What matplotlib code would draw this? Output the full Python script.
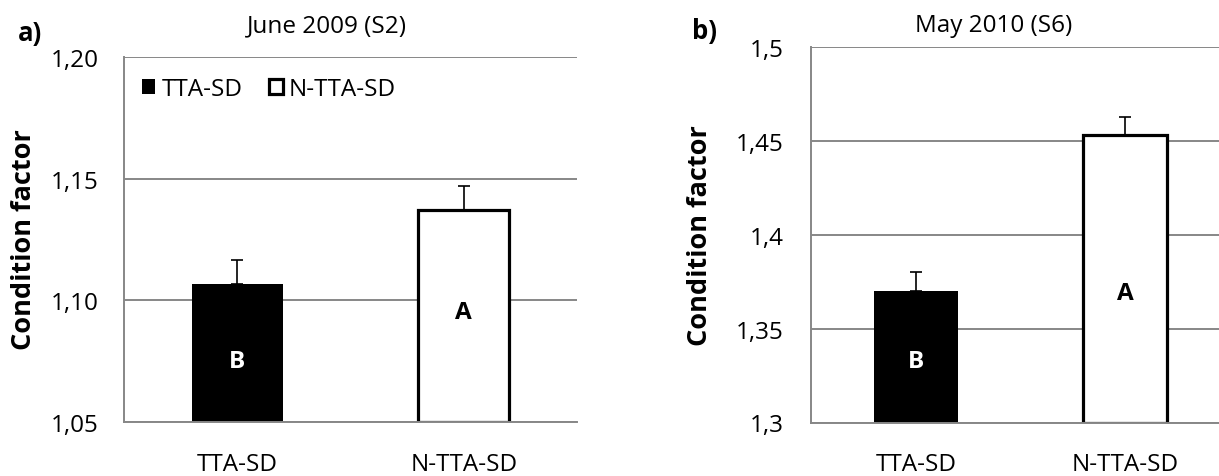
import matplotlib
matplotlib.use('Agg')
import matplotlib.pyplot as plt
from matplotlib.patches import Patch
from matplotlib.ticker import FuncFormatter

plt.rcParams['font.family'] = ['Open Sans', 'DejaVu Sans']

# --- Data ---
groups = ["TTA-SD", "N-TTA-SD"]

june_means = [1.1065, 1.137]
june_sd = [0.010, 0.010]
june_letters = ["B", "A"]
june_letter_y = [1.075, 1.095]
june_ticks = [1.05, 1.10, 1.15, 1.20]

may_means = [1.370, 1.453]
may_sd = [0.010, 0.010]
may_letters = ["B", "A"]
may_letter_y = [1.333, 1.369]
may_ticks = [1.30, 1.35, 1.40, 1.45, 1.50]

W, H = 1219, 477
GRID = '#878787'
FS = 17.5


def px_box(left, top, right, bottom):
    # axes rectangle given in pixel coordinates (origin top-left)
    return [left / W, (H - bottom) / H, (right - left) / W, (bottom - top) / H]


def comma_fmt(decimals):
    def f(v, pos):
        s = f"{v:.{decimals}f}" if decimals else f"{v:g}"
        return s.replace('.', ',')
    return FuncFormatter(f)


def draw_panel(ax, means, sd, letters, letter_y, ticks, fmt, ypad):
    x = range(len(groups))
    ax.set_axisbelow(True)
    ax.bar(x[0], means[0] - ticks[0], bottom=ticks[0], width=0.4,
           color='black', edgecolor='black', linewidth=0, zorder=2)
    ax.bar(x[1], means[1] - ticks[0], bottom=ticks[0], width=0.4,
           color='white', edgecolor='black', linewidth=2.3, zorder=2)
    ax.errorbar(x, means, yerr=[[0] * len(sd), sd], fmt='none',
                ecolor='black', elinewidth=1.2, capsize=4.3, capthick=1.2,
                zorder=3)
    colors = ['white', 'black']
    for i, (lab, ly) in enumerate(zip(letters, letter_y)):
        ax.text(i, ly, lab, ha='center', va='center', fontsize=FS,
                fontweight='bold', color=colors[i], zorder=4)
    ax.set_xlim(-0.5, 1.5)
    ax.set_ylim(ticks[0], ticks[-1])
    ax.set_yticks(ticks)
    ax.yaxis.set_major_formatter(fmt)
    ax.set_xticks(list(x))
    ax.set_xticklabels(groups)
    ax.yaxis.grid(True, color=GRID, linewidth=1.4)
    ax.tick_params(axis='both', length=0, labelsize=FS)
    ax.tick_params(axis='y', pad=ypad)
    ax.tick_params(axis='x', pad=21.5)
    for s in ['top', 'right']:
        ax.spines[s].set_visible(False)
    for s in ['left', 'bottom']:
        ax.spines[s].set_color(GRID)
        ax.spines[s].set_linewidth(1.4)
        ax.spines[s].set_zorder(2.5)


fig = plt.figure(figsize=(W / 100, H / 100), dpi=100)

ax_a = fig.add_axes(px_box(124, 58.3, 577, 422.7))
draw_panel(ax_a, june_means, june_sd, june_letters, june_letter_y,
           june_ticks, comma_fmt(2), 18)

handles = [Patch(facecolor='black', edgecolor='black', linewidth=0),
           Patch(facecolor='white', edgecolor='black', linewidth=2.3)]
ax_a.legend(handles, groups, loc='center left', bbox_to_anchor=(0.04, 0.912),
            ncol=2, frameon=False, fontsize=FS, handlelength=0.55,
            handleheight=0.55, handletextpad=0.25, columnspacing=1.1,
            borderpad=0, borderaxespad=0)

ax_b = fig.add_axes(px_box(811, 48.3, 1230, 423.5))
draw_panel(ax_b, may_means, may_sd, may_letters, may_letter_y,
           may_ticks, comma_fmt(0), 19.5)

# panel titles, letters and y labels
fig.text(327 / W, 1 - 26.5 / H, "June 2009 (S2)", ha='center', va='center',
         fontsize=FS)
fig.text(994 / W, 1 - 26.5 / H, "May 2010 (S6)", ha='center', va='center',
         fontsize=FS)
fig.text(30 / W, 1 - 34 / H, "a)", ha='center', va='center', fontsize=18.5,
         fontweight='bold')
fig.text(705 / W, 1 - 32 / H, "b)", ha='center', va='center', fontsize=18.5,
         fontweight='bold')
fig.text(24 / W, 1 - 240 / H, "Condition factor", rotation=90, ha='center',
         va='center', fontsize=19.5, fontweight='bold')
fig.text(700 / W, 1 - 236 / H, "Condition factor", rotation=90, ha='center',
         va='center', fontsize=19.5, fontweight='bold')

fig.savefig('out.png', dpi=100)
